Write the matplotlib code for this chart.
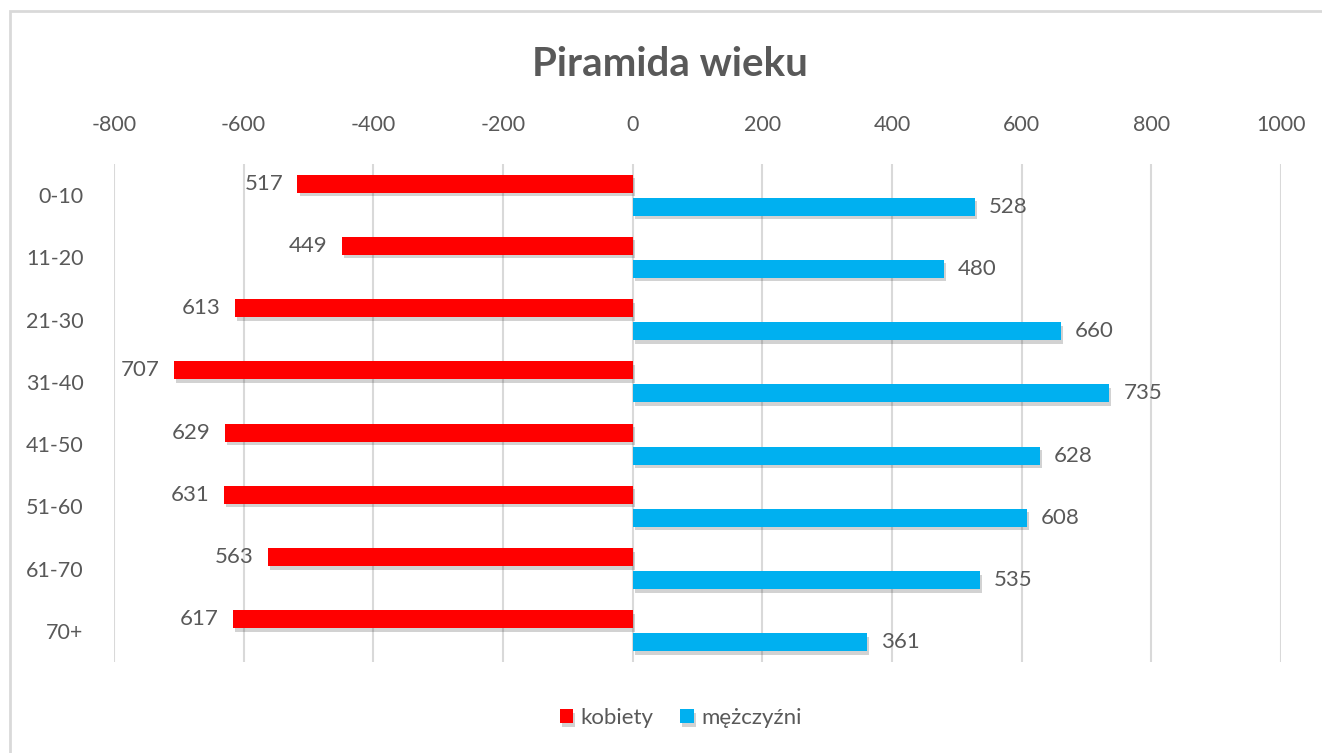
import matplotlib.pyplot as plt
import matplotlib.patheffects as pe
from matplotlib.patches import Rectangle
import numpy as np

# data
age_groups = ['0-10', '11-20', '21-30', '31-40', '41-50', '51-60', '61-70', '70+']
kobiety = [517, 449, 613, 707, 629, 631, 563, 617]
mezczyzni = [528, 480, 660, 735, 628, 608, 535, 361]
x_ticks = [-800, -600, -400, -200, 0, 200, 400, 600, 800, 1000]

plt.rcParams['font.family'] = ['Lato', 'DejaVu Sans']
gray = '#595959'
red = '#FF0000'
blue = '#00B0F0'

fig = plt.figure(figsize=(13.22, 7.53), dpi=100)
ax = fig.add_axes([0.0862, 0.1208, 0.8828, 0.6614])

# border around chart area (light gray)
fig.patches.append(Rectangle((10 / 1322, -0.05), 1.2, 1 - 11 / 753 + 0.05,
                             transform=fig.transFigure, fill=False,
                             edgecolor='#d9d9d9', linewidth=2))

y = np.arange(len(age_groups))
h = 0.29
off = 0.185
shadow = [pe.SimplePatchShadow(offset=(1.5, -2.5), alpha=0.22, shadow_rgbFace='#333333'), pe.Normal()]

bars_k = ax.barh(y - off, [-v for v in kobiety], height=h, color=red, label='kobiety', zorder=3)
bars_m = ax.barh(y + off, mezczyzni, height=h, color=blue, label='mężczyźni', zorder=3)
for b in list(bars_k) + list(bars_m):
    b.set_path_effects(shadow)

for yi, v in zip(y, kobiety):
    ax.text(-v - 22, yi - off, str(v), ha='right', va='center', fontsize=16, color=gray)
for yi, v in zip(y, mezczyzni):
    ax.text(v + 22, yi + off, str(v), ha='left', va='center', fontsize=16, color=gray)

ax.set_xlim(-800, 1000)
ax.set_ylim(len(age_groups) - 0.5, -0.5)
ax.set_xticks(x_ticks)
ax.set_xticklabels([str(t) for t in x_ticks])
ax.set_yticks(y)
ax.set_yticklabels(age_groups)
ax.xaxis.tick_top()
ax.tick_params(axis='x', length=0, pad=21, labelsize=15.5, labelcolor=gray)
ax.tick_params(axis='y', length=0, pad=22, labelsize=15.5, labelcolor=gray)
ax.grid(axis='x', color='#d9d9d9', linewidth=1.5, zorder=0)
for s in ax.spines.values():
    s.set_visible(False)

fig.text(0.507, 1 - 65 / 753, 'Piramida wieku', ha='center', va='center',
         fontsize=29, fontweight='bold', color=gray)

leg = fig.legend(loc='center', bbox_to_anchor=(0.515, 1 - 718 / 753), ncol=2, frameon=False,
                 fontsize=16, handlelength=0.6, handleheight=0.6, columnspacing=1.2,
                 handletextpad=0.35)
for t in leg.get_texts():
    t.set_color(gray)

fig.savefig('out.png', dpi=100)
